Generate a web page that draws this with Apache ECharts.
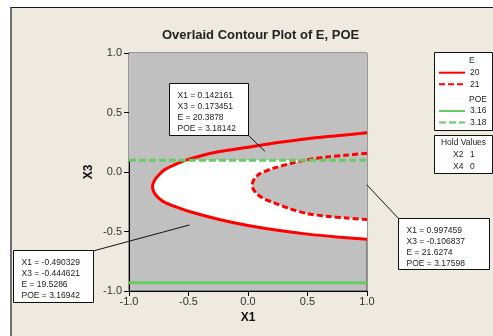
<!DOCTYPE html>
<html>
<head>
<meta charset="utf-8">
<script src="https://cdn.jsdelivr.net/npm/echarts@6/dist/echarts.min.js"></script>
<style>
  body { margin: 0; background: #fff; }
  #wrap { position: relative; width: 493px; height: 336px; overflow: hidden; background: #fff; }
  #frame { position: absolute; left: 10px; top: 7px; width: 500px; height: 340px; background: #EEEAE0; border-top: 1px solid #1a1a1a; border-left: 2px solid #6e6e6e; }
  #chart { position: absolute; left: 0; top: 0; width: 493px; height: 336px; }
</style>
</head>
<body>
<div id="wrap"><div id="frame"></div><div id="chart"></div></div>
<script>
// E = 20 contour, from the upper right round the nose to the lower right
const e20 = [
  [1.0, 0.33], [0.75, 0.305], [0.5, 0.28], [0.25, 0.247], [0.0, 0.208],
  [-0.25, 0.17], [-0.4, 0.135], [-0.52, 0.1], [-0.62, 0.06], [-0.7, 0.02],
  [-0.75, -0.025], [-0.785, -0.07], [-0.803, -0.12], [-0.79, -0.17], [-0.755, -0.215],
  [-0.7, -0.255], [-0.6, -0.295], [-0.5, -0.33], [-0.25, -0.397], [0.0, -0.45],
  [0.25, -0.49], [0.5, -0.522], [0.75, -0.546], [1.0, -0.565]
]
// E = 21 contour
const e21 = [
  [1.0, 0.157], [0.83, 0.142], [0.66, 0.126], [0.5, 0.103], [0.35, 0.07],
  [0.21, 0.03], [0.1, -0.014], [0.06, -0.05], [0.04, -0.085], [0.036, -0.115],
  [0.045, -0.145], [0.073, -0.182], [0.13, -0.222], [0.21, -0.255], [0.35, -0.308],
  [0.5, -0.35], [0.66, -0.372], [0.83, -0.386], [1.0, -0.4]
]
// POE contours (flat across X1)
const poe316 = [[-1, -0.93], [1, -0.93]]
const poe318 = [[-1, 0.098], [1, 0.098]]

const axisMin = -1
const axisMax = 1
const axisStep = 0.5

// flagged points
const callouts = [
  { x1: 0.142161, x3: 0.173451, e: 20.3878, poe: 3.18142 },
  { x1: -0.490329, x3: -0.444621, e: 19.5286, poe: 3.16942 },
  { x1: 0.997459, x3: -0.106837, e: 21.6274, poe: 3.17598 }
]
const holdValues = [['X2', 1], ['X4', 0]]

// box placement for each callout: x, y, w, h, and which corner the leader leaves from
const calloutBoxes = [
  { x: 169.5, y: 83.5, w: 79, h: 52, cx: 248, cy: 135 },
  { x: 13.5, y: 250.5, w: 80, h: 52, cx: 93, cy: 251 },
  { x: 398.5, y: 218.5, w: 91, h: 51, cx: 399, cy: 219 }
]

const GRAY = '#C0C0C0'
const FONT = '"Liberation Sans", Arial, sans-serif'

let chart = echarts.init(document.getElementById('chart'), null, { renderer: 'canvas' })

function axisCommon (name) {
  return {
    type: 'value',
    min: axisMin,
    max: axisMax,
    interval: axisStep,
    name: name,
    nameLocation: 'middle',
    nameTextStyle: { fontFamily: FONT, fontWeight: 'bold', fontSize: 12, color: '#111' },
    axisLine: { onZero: false, lineStyle: { color: '#000', width: 1 } },
    axisTick: { length: 5, lineStyle: { color: '#000' } },
    axisLabel: { fontFamily: FONT, fontSize: 11, color: '#333', formatter: v => v.toFixed(1) },
    splitLine: { show: false }
  }
}

let xAxis = axisCommon('X1')
xAxis.nameGap = 19
xAxis.axisLabel.margin = 5
let yAxis = axisCommon('X3')
yAxis.nameGap = 34
yAxis.axisLabel.margin = 7

function lineSeries (name, data, color, dash) {
  return {
    name: name,
    type: 'line',
    data: data,
    symbol: 'none',
    showSymbol: false,
    smooth: 0.3,
    z: 3,
    itemStyle: { color: color },
    lineStyle: { color: color, width: 3, type: dash || 'solid' }
  }
}

// feasible (white) region: inside E=20, outside E=21, below POE=3.18
function renderRegion (params, api) {
  let px = pts => pts.map(p => api.coord(p))
  let cut = poe318[0][1]
  let above = [[axisMin, cut], [axisMax, cut], [axisMax, axisMax], [axisMin, axisMax]]
  return {
    type: 'group',
    children: [
      { type: 'polygon', shape: { points: px(e20) }, style: { fill: '#fff' } },
      { type: 'polygon', shape: { points: px(above) }, style: { fill: GRAY } },
      { type: 'polygon', shape: { points: px(e21) }, style: { fill: GRAY } }
    ]
  }
}

let legendBase = {
  orient: 'vertical',
  left: 438,
  itemWidth: 26,
  itemHeight: 10,
  itemGap: 1.6,
  padding: 0,
  selectedMode: false,
  itemStyle: { color: 'rgba(0,0,0,0)', borderWidth: 0 },
  textStyle: { fontFamily: FONT, fontSize: 8.5, color: '#222', lineHeight: 10 }
}

let frameEls = [
  { type: 'rect', z: 1, shape: { x: 434.5, y: 52.5, width: 58, height: 78 }, style: { fill: '#fff', stroke: '#111', lineWidth: 1 } },
  { type: 'text', z: 2, x: 469, y: 61, style: { text: 'E', font: '8.5px ' + FONT, fill: '#222', verticalAlign: 'middle' } },
  { type: 'text', z: 2, x: 469, y: 100, style: { text: 'POE', font: '8.5px ' + FONT, fill: '#222', verticalAlign: 'middle' } },
  { type: 'rect', z: 1, shape: { x: 434.5, y: 135.5, width: 58, height: 38 }, style: { fill: '#fff', stroke: '#111', lineWidth: 1 } },
  { type: 'text', z: 2, x: 463.5, y: 143, style: { text: 'Hold Values', font: '8.5px ' + FONT, fill: '#222', align: 'center', verticalAlign: 'middle' } }
]
holdValues.forEach(function (hv, i) {
  frameEls.push({ type: 'text', z: 2, x: 453, y: 155 + i * 11.7, style: { text: hv[0], font: '8.5px ' + FONT, fill: '#222', verticalAlign: 'middle' } })
  frameEls.push({ type: 'text', z: 2, x: 470, y: 155 + i * 11.7, style: { text: String(hv[1]), font: '8.5px ' + FONT, fill: '#222', verticalAlign: 'middle' } })
})

let option = {
  animation: false,
  title: {
    text: 'Overlaid Contour Plot of E, POE',
    left: 157,
    top: 24,
    textStyle: { fontFamily: FONT, fontWeight: 'bold', fontSize: 13, color: '#222' }
  },
  grid: {
    left: 129,
    top: 53,
    width: 238,
    height: 238,
    show: true,
    backgroundColor: GRAY,
    borderColor: '#444',
    borderWidth: 1
  },
  legend: [
    Object.assign({}, legendBase, { top: 67.7, data: ['20', '21'] }),
    Object.assign({}, legendBase, { top: 106, data: ['3.16', '3.18'] })
  ],
  xAxis: xAxis,
  yAxis: yAxis,
  graphic: frameEls,
  series: [
    { type: 'custom', silent: true, z: 1, data: [[0, 0]], renderItem: renderRegion },
    lineSeries('20', e20, '#FF0000'),
    lineSeries('21', e21, '#FF0000', [6, 3]),
    lineSeries('3.16', poe316, '#66CC66'),
    lineSeries('3.18', poe318, '#66CC66', [7, 3])
  ]
}
chart.setOption(option)

// callout boxes with leaders to their points
let calloutEls = []
callouts.forEach(function (c, i) {
  let b = calloutBoxes[i]
  let pt = chart.convertToPixel({ gridIndex: 0 }, [c.x1, c.x3])
  calloutEls.push({ type: 'line', z: 20, shape: { x1: b.cx, y1: b.cy, x2: pt[0], y2: pt[1] }, style: { stroke: '#111', lineWidth: 1 } })
  calloutEls.push({ type: 'rect', z: 21, shape: { x: b.x, y: b.y, width: b.w, height: b.h }, style: { fill: '#fff', stroke: '#111', lineWidth: 1 } })
  calloutEls.push({
    type: 'text',
    z: 22,
    x: b.x + 8,
    y: b.y + 6.5,
    style: {
      text: ['X1 = ' + c.x1, 'X3 = ' + c.x3, 'E = ' + c.e, 'POE = ' + c.poe].join('\n'),
      font: '8.5px ' + FONT,
      lineHeight: 11,
      fill: '#222',
      verticalAlign: 'top'
    }
  })
})
chart.setOption({ graphic: frameEls.concat(calloutEls) })
</script>
</body>
</html>
